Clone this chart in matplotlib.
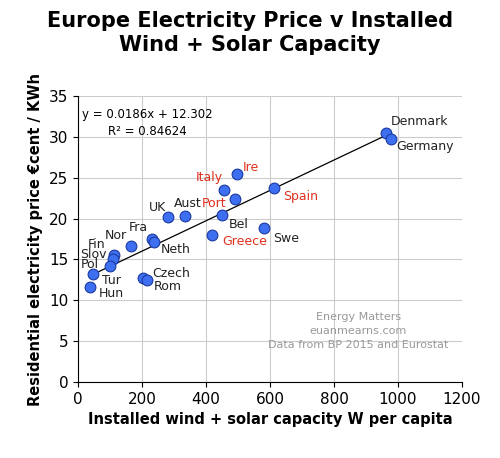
import matplotlib
matplotlib.use("Agg")
import matplotlib.pyplot as plt
import numpy as np

countries = ["Denmark","Germany","Ire","Italy","Port","Spain","Bel","UK","Aust","Greece","Swe",
             "Fra","Neth","Nor","Fin","Slov","Pol","Tur","Hun","Czech","Rom"]
x_vals = [962,978,497,456,491,614,450,281,334,419,581,231,238,166,113,109,100,47,37,203,216]
y_vals = [30.5,29.8,25.5,23.5,22.4,23.8,20.5,20.2,20.3,18.0,18.8,17.5,17.2,16.7,15.6,15.1,14.2,13.2,11.6,12.7,12.5]
red = {"Ire","Italy","Port","Spain","Greece"}
# label offsets in pixels (dx, dy, ha)
offs = {"Denmark":(5,11,"left"),"Germany":(5,-8,"left"),"Ire":(6,6,"left"),"Italy":(-1,13,"right"),
        "Port":(-9,-4,"right"),"Spain":(9,-9,"left"),"Bel":(7,-10,"left"),"UK":(-2,10,"right"),
        "Aust":(-11,13,"left"),"Greece":(10,-7,"left"),"Swe":(9,-10,"left"),"Fra":(-4,12,"right"),
        "Neth":(7,-8,"left"),"Nor":(-4,10,"right"),"Fin":(-9,10,"right"),"Slov":(-6,4,"right"),
        "Pol":(-11,2,"right"),"Tur":(9,-6,"left"),"Hun":(9,-6,"left"),"Czech":(9,5,"left"),
        "Rom":(7,-7,"left")}
slope, icpt = 0.0186, 12.302

fig = plt.figure(figsize=(5,4.58), dpi=100)
ax = fig.add_axes([0.156, 0.166, 0.768, 0.624])
fig.suptitle("Europe Electricity Price v Installed\nWind + Solar Capacity", y=0.975, fontsize=15, fontweight="bold")
ax.grid(True, color="#cccccc", lw=0.8)
ax.set_axisbelow(True)
xl = np.array([min(x_vals), max(x_vals)])
ax.plot(xl, slope*xl+icpt, color="black", lw=0.9, zorder=2)
ax.scatter(x_vals, y_vals, s=60, color="#3d6ff0", edgecolors="#1a3aa0", linewidths=0.8, zorder=3)
for c, x, y in zip(countries, x_vals, y_vals):
    dx, dy, ha = offs[c]
    ax.annotate(c, (x, y), xytext=(dx, dy), textcoords="offset pixels", fontsize=9,
                ha=ha, va="center", color="#e0301e" if c in red else "#222222")
ax.text(0.18, 0.905, "y = 0.0186x + 12.302\nR² = 0.84624", transform=ax.transAxes,
        ha="center", va="center", fontsize=8.5, linespacing=1.4)
ax.text(0.73, 0.18, "Energy Matters\neuanmearns.com\nData from BP 2015 and Eurostat", transform=ax.transAxes,
        ha="center", va="center", fontsize=8, color="#999999", linespacing=1.5)
ax.set_xlim(0, 1200); ax.set_ylim(0, 35)
ax.set_xticks(range(0, 1201, 200)); ax.set_yticks(range(0, 36, 5))
ax.tick_params(labelsize=11)
for s in ["top","right"]: ax.spines[s].set_visible(False)
ax.set_xlabel("Installed wind + solar capacity W per capita", fontsize=10.5, fontweight="bold")
ax.set_ylabel("Residential electricity price €cent / KWh", fontsize=10.5, fontweight="bold")
fig.savefig("out.png", dpi=100)
